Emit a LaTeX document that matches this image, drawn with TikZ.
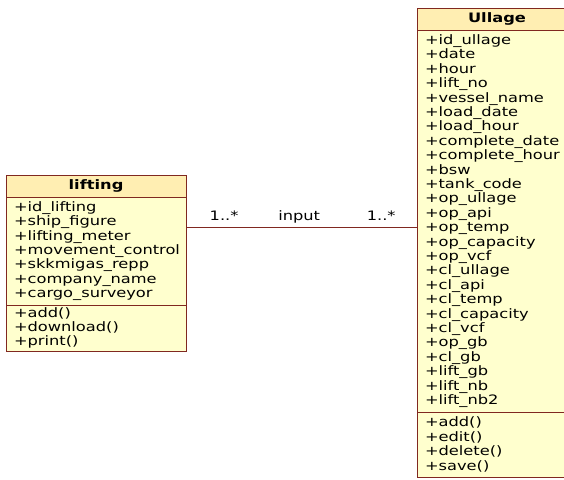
\documentclass[tikz,border=0pt]{standalone}
\usepackage{fontspec}
\newfontfamily\umlfont[FakeStretch=1.25]{DejaVu Sans}
\usetikzlibrary{positioning}
\definecolor{umlborder}{RGB}{128,40,32}
\definecolor{umlhead}{RGB}{255,238,178}
\definecolor{umlbody}{RGB}{255,255,206}
\tikzset{
  classhead/.style={draw=umlborder, fill=umlhead, line width=1pt, outer sep=0pt,
    inner sep=0pt, minimum height=22pt, font=\umlfont\bfseries\fontsize{13}{14.4}\selectfont},
  classpart/.style={draw=umlborder, fill=umlbody, line width=1pt, outer sep=0pt,
    inner xsep=8pt, inner ysep=0pt, align=left, font=\umlfont\fontsize{13}{14.4}\selectfont},
  multlabel/.style={anchor=base, yshift=7pt, text=black, font=\umlfont\fontsize{13}{14.4}\selectfont}
}

\begin{document}
\begin{tikzpicture}[x=1pt,y=-1pt]
\useasboundingbox (0,0) rectangle (564,479);
\clip (0,0) rectangle (564,479);
\fill[white] (0,0) rectangle (564,479);

\node[classhead, anchor=north west, minimum width=180pt] (liftHead) at (6,175) {lifting};
\node[classpart, below=0pt of liftHead, text width=164pt, minimum height=108pt] (liftAttr)
  {+id\_lifting\\+ship\_figure\\+lifting\_meter\\+movement\_control\\+skkmigas\_repp\\+company\_name\\+cargo\_surveyor};
\node[classpart, below=0pt of liftAttr, text width=164pt, minimum height=46pt] (liftOps)
  {+add()\\+download()\\+print()};

\node[classhead, anchor=north west, minimum width=160pt] (ullHead) at (417,8) {Ullage};
\node[classpart, below=0pt of ullHead, text width=144pt, minimum height=382pt] (ullAttr)
  {+id\_ullage\\+date\\+hour\\+lift\_no\\+vessel\_name\\+load\_date\\+load\_hour\\
   +complete\_date\\+complete\_hour\\+bsw\\+tank\_code\\+op\_ullage\\+op\_api\\+op\_temp\\
   +op\_capacity\\+op\_vcf\\+cl\_ullage\\+cl\_api\\+cl\_temp\\+cl\_capacity\\+cl\_vcf\\
   +op\_gb\\+cl\_gb\\+lift\_gb\\+lift\_nb\\+lift\_nb2};
\node[classpart, below=0pt of ullAttr, text width=144pt, minimum height=65pt] (ullOps)
  {+add()\\+edit()\\+delete()\\+save()};

\coordinate (assoc) at (0,227);
\draw[umlborder, line width=1pt] (liftAttr.east |- assoc) --
  node[multlabel, pos=0.165] {1..*}
  node[multlabel, pos=0.49] {input}
  node[multlabel, pos=0.845] {1..*}
  (ullAttr.west |- assoc);
\end{tikzpicture}
\end{document}
